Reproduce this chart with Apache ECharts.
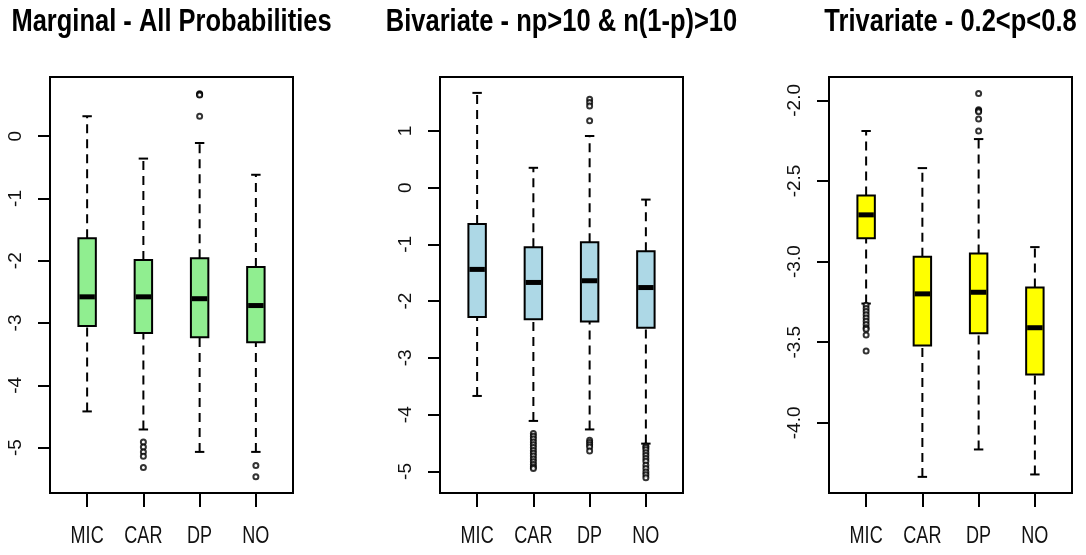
<!DOCTYPE html>
<html>
<head>
<meta charset="utf-8">
<script src="https://cdn.jsdelivr.net/npm/echarts@6/dist/echarts.min.js"></script>
<style>
html,body{margin:0;padding:0;background:#fff;}
#chart{width:1086px;height:555px;}
</style>
</head>
<body>
<div id="chart"></div>
<script>
// ---- data ----
const categories = ['MIC', 'CAR', 'DP', 'NO'];
const titles = ['Marginal - All Probabilities', 'Bivariate - np>10 & n(1-p)>10', 'Trivariate - 0.2<p<0.8'];

// box stats per category: [lowerWhisker, Q1, median, Q3, upperWhisker]
const marginalBox = [
  [-4.42, -3.05, -2.58, -1.64, 0.32],
  [-4.71, -3.16, -2.58, -1.99, -0.36],
  [-5.07, -3.23, -2.61, -1.96, -0.11],
  [-5.07, -3.31, -2.72, -2.10, -0.62]
];
const marginalOutliers = [
  [],
  [-4.91, -4.99, -5.07, -5.14, -5.32],
  [0.68, 0.67, 0.66, 0.32],
  [-5.29, -5.47]
];
const bivariateBox = [
  [-3.67, -2.28, -1.44, -0.64, 1.67],
  [-4.11, -2.32, -1.67, -1.05, 0.35],
  [-4.26, -2.36, -1.64, -0.96, 0.91],
  [-4.51, -2.47, -1.76, -1.12, -0.21]
];
const bivariateOutliers = [
  [],
  [-4.33, -4.38, -4.43, -4.48, -4.53, -4.58, -4.63, -4.68, -4.73, -4.78, -4.83, -4.88, -4.92, -4.95],
  [1.56, 1.50, 1.44, 1.18, -4.45, -4.49, -4.53, -4.57, -4.64],
  [-4.55, -4.58, -4.62, -4.67, -4.72, -4.77, -4.82, -4.89, -4.95, -5.01, -5.06, -5.11]
];
const trivariateBox = [
  [-3.26, -2.855, -2.71, -2.59, -2.19],
  [-4.335, -3.52, -3.20, -2.97, -2.42],
  [-4.165, -3.445, -3.19, -2.95, -2.24],
  [-4.32, -3.70, -3.41, -3.16, -2.91]
];
const trivariateOutliers = [
  [-3.27, -3.29, -3.31, -3.33, -3.35, -3.37, -3.39, -3.41, -3.42, -3.455, -3.555],
  [],
  [-1.957, -2.058, -2.065, -2.07, -2.115, -2.19],
  []
];
const marginalTicks = [-5, -4, -3, -2, -1, 0];
const bivariateTicks = [-5, -4, -3, -2, -1, 0, 1];
const trivariateTicks = [-4.0, -3.5, -3.0, -2.5, -2.0];
const yRanges = [[-5.73, 0.95], [-5.38, 1.95], [-4.435, -1.855]];
const fills = ['#90EE90', '#ADD8E6', '#FFFF00'];

// ---- fonts: prefer a narrow face, else squeeze Liberation Sans ----
function hasFont(name) {
  const c = document.createElement('canvas').getContext('2d');
  const s = 'MIC CAR DP NO abcdefghij 0123';
  c.font = '40px monospace';
  const a = c.measureText(s).width;
  c.font = '40px "' + name + '", monospace';
  const b = c.measureText(s).width;
  return Math.abs(a - b) > 0.5;
}
const narrow = ['Liberation Sans Narrow', 'Arial Narrow', 'Nimbus Sans Narrow'].find(hasFont);
const FONT = narrow ? '"' + narrow + '"' : '"Liberation Sans", Arial, sans-serif';
const SQ = narrow ? 1 : 0.82;
const TSQ = narrow ? 1 : 0.85;
const TICKFONT = narrow ? 22 : 19;

// ---- layout ----
const frames = [
  {left: 50, top: 77, width: 243, height: 416},
  {left: 440, top: 77, width: 243, height: 416},
  {left: 829, top: 77, width: 243, height: 416}
];
const panels = [
  {box: marginalBox, out: marginalOutliers, ticks: marginalTicks, dec: 0},
  {box: bivariateBox, out: bivariateOutliers, ticks: bivariateTicks, dec: 0},
  {box: trivariateBox, out: trivariateOutliers, ticks: trivariateTicks, dec: 1}
];

function makeRender(color) {
  return function (params, api) {
    const x = api.value(0);
    const pLow = api.coord([x, api.value(1)]);
    const pQ1 = api.coord([x, api.value(2)]);
    const pMed = api.coord([x, api.value(3)]);
    const pQ3 = api.coord([x, api.value(4)]);
    const pHigh = api.coord([x, api.value(5)]);
    const bw = api.size([1, 0])[0] * 0.31;
    const cx = pMed[0];
    const sw = bw * 0.27;
    const dash = {stroke: '#000', lineWidth: 2, lineDash: [9, 6]};
    const solid = {stroke: '#000', lineWidth: 2};
    return {
      type: 'group',
      children: [
        {type: 'line', shape: {x1: cx, y1: pLow[1], x2: cx, y2: pQ1[1]}, style: dash},
        {type: 'line', shape: {x1: cx, y1: pQ3[1], x2: cx, y2: pHigh[1]}, style: dash},
        {type: 'line', shape: {x1: cx - sw, y1: pLow[1], x2: cx + sw, y2: pLow[1]}, style: solid},
        {type: 'line', shape: {x1: cx - sw, y1: pHigh[1], x2: cx + sw, y2: pHigh[1]}, style: solid},
        {type: 'rect', shape: {x: cx - bw / 2, y: pQ3[1], width: bw, height: pQ1[1] - pQ3[1]},
          style: {fill: color, stroke: '#000', lineWidth: 2}},
        {type: 'line', shape: {x1: cx - bw / 2 + 1, y1: pMed[1], x2: cx + bw / 2 - 1, y2: pMed[1]},
          style: {stroke: '#000', lineWidth: 5}}
      ]
    };
  };
}

function renderCatLabel(params, api) {
  const p = api.coord([api.value(0), api.value(1)]);
  return {
    type: 'text', x: p[0], y: p[1] + 43, scaleX: SQ, scaleY: 1.1,
    style: {text: categories[params.dataIndex], fontFamily: FONT, fontSize: 22,
      fill: '#111', align: 'center', verticalAlign: 'middle'}
  };
}

const grid = [], xAxis = [], yAxis = [], series = [], graphic = [];
panels.forEach((p, i) => {
  const f = frames[i];
  grid.push({left: f.left, top: f.top, width: f.width, height: f.height, show: true,
    borderColor: '#000', borderWidth: 2, backgroundColor: 'transparent'});
  graphic.push({type: 'text', x: f.left + f.width / 2, y: 22, scaleX: TSQ, scaleY: 1.05, z: 10,
    style: {text: titles[i], fontFamily: FONT, fontWeight: 'bold', fontSize: 30, fill: '#000',
      align: 'center', verticalAlign: 'middle'}});
  xAxis.push({type: 'value', gridIndex: i, min: 0.34, max: 4.66,
    splitLine: {show: false}, axisLine: {show: false, onZero: false},
    axisTick: {show: true, length: 14, lineStyle: {color: '#000', width: 2}, customValues: [1, 2, 3, 4]},
    axisLabel: {show: false}});
  yAxis.push({type: 'value', gridIndex: i, min: yRanges[i][0], max: yRanges[i][1],
    splitLine: {show: false}, axisLine: {show: false, onZero: false},
    axisTick: {show: true, length: 12, lineStyle: {color: '#000', width: 2}, customValues: p.ticks},
    axisLabel: {show: true, rotate: 90, margin: 25, fontFamily: FONT, fontSize: TICKFONT, color: '#111',
      customValues: p.ticks, formatter: v => Number(v).toFixed(p.dec)}});
  series.push({type: 'custom', xAxisIndex: i, yAxisIndex: i, renderItem: makeRender(fills[i]),
    encode: {x: 0, y: [1, 2, 3, 4, 5]},
    data: p.box.map((b, k) => [k + 1].concat(b)), clip: false, silent: true});
  const pts = [];
  p.out.forEach((arr, k) => arr.forEach(v => pts.push([k + 1, v])));
  series.push({type: 'scatter', xAxisIndex: i, yAxisIndex: i, data: pts, symbol: 'emptyCircle',
    symbolSize: 5, itemStyle: {color: '#000', borderColor: '#000', borderWidth: 1.3}, silent: true, z: 5});
  series.push({type: 'custom', xAxisIndex: i, yAxisIndex: i, renderItem: renderCatLabel,
    encode: {x: 0, y: 1}, data: categories.map((c, k) => [k + 1, yRanges[i][0]]),
    clip: false, silent: true});
});

const chart = echarts.init(document.getElementById('chart'), null, {renderer: 'canvas'});
chart.setOption({animation: false, backgroundColor: '#fff', graphic, grid, xAxis, yAxis, series});
</script>
</body>
</html>
